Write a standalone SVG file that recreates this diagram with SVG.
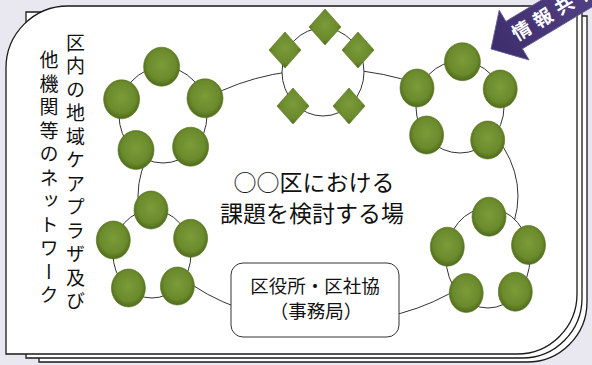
<svg xmlns="http://www.w3.org/2000/svg" width="592" height="365" viewBox="0 0 592 365">
<defs>
<radialGradient id="g" cx="50%" cy="45%" r="55%">
<stop offset="0" stop-color="#7c9b3a"/>
<stop offset="0.72" stop-color="#6a8a2c"/>
<stop offset="1" stop-color="#4e6a1a"/>
</radialGradient>
<linearGradient id="pg" x1="0" y1="0" x2="1" y2="0">
<stop offset="0" stop-color="#3d2d6c"/>
<stop offset="1" stop-color="#5a4a8e"/>
</linearGradient>
</defs>
<style>
.page{fill:#fff;stroke:#1a1a1a;stroke-width:1.3}
.ring{fill:#fff;stroke:#333;stroke-width:1}
.n{fill:url(#g);stroke:#56731f;stroke-width:0.6}
.t{font-family:"Noto Sans CJK JP","Noto Sans",sans-serif;fill:#111}
.v{writing-mode:vertical-rl;font-size:19px;letter-spacing:4.5px}
.link{fill:none;stroke:#333;stroke-width:1}
</style>
<rect width="592" height="365" fill="#e9e7f0"/>
<g id="pages">
<path class="page" d="M39,16 H587 V302 A60,60 0 0 1 527,362 H39 Z"/>
<path class="page" d="M26,12 H582 V298 A60,60 0 0 1 522,358 H26 Z"/>
<path class="page" d="M6,68 A62,62 0 0 1 68,6 H577 V294 A60,60 0 0 1 517,354 H6 Z"/>
</g>
<g id="connectors">
<ellipse class="link" cx="328" cy="196" rx="190" ry="127"/>
</g>
<g id="cluster-top-left">
<ellipse class="ring" cx="163" cy="115" rx="44" ry="48"/>
<ellipse class="n" cx="161.6" cy="66.7" rx="18" ry="19.5"/>
<ellipse class="n" cx="121.6" cy="99.3" rx="18" ry="19.5"/>
<ellipse class="n" cx="205" cy="98.3" rx="18" ry="19.5"/>
<ellipse class="n" cx="136" cy="150" rx="18" ry="19.5"/>
<ellipse class="n" cx="190.6" cy="146.7" rx="18" ry="19.5"/>
</g>
<g id="cluster-diamonds">
<ellipse class="ring" cx="323" cy="72" rx="41" ry="44"/>
<path class="n" d="M325,9 L341,27 L325,45 L309,27 Z"/>
<path class="n" d="M285,32 L301,50 L285,68 L269,50 Z"/>
<path class="n" d="M358,32 L374,50 L358,68 L342,50 Z"/>
<path class="n" d="M293,88 L309,106 L293,124 L277,106 Z"/>
<path class="n" d="M349,88 L365,106 L349,124 L333,106 Z"/>
</g>
<g id="cluster-top-right">
<ellipse class="ring" cx="460" cy="107" rx="44" ry="46"/>
<ellipse class="n" cx="462.4" cy="61.7" rx="18" ry="19"/>
<ellipse class="n" cx="417" cy="88" rx="17" ry="19"/>
<ellipse class="n" cx="500.2" cy="89" rx="17" ry="19"/>
<ellipse class="n" cx="426.6" cy="135" rx="17" ry="19"/>
<ellipse class="n" cx="487.7" cy="140" rx="17" ry="19"/>
</g>
<g id="cluster-bottom-left">
<ellipse class="ring" cx="152" cy="254" rx="39" ry="44"/>
<ellipse class="n" cx="151" cy="210" rx="17" ry="19"/>
<ellipse class="n" cx="113.3" cy="240" rx="17" ry="19"/>
<ellipse class="n" cx="190.6" cy="238.3" rx="17" ry="19"/>
<ellipse class="n" cx="128.4" cy="288" rx="17" ry="19"/>
<ellipse class="n" cx="177.4" cy="286" rx="17" ry="19"/>
</g>
<g id="cluster-bottom-right">
<ellipse class="ring" cx="488" cy="258" rx="42" ry="50"/>
<ellipse class="n" cx="489" cy="216.7" rx="17" ry="19.5"/>
<ellipse class="n" cx="447.3" cy="246.7" rx="17" ry="19.5"/>
<ellipse class="n" cx="528.5" cy="245" rx="17" ry="19.5"/>
<ellipse class="n" cx="466.2" cy="293" rx="17" ry="19.5"/>
<ellipse class="n" cx="515.3" cy="291.7" rx="17" ry="19.5"/>
</g>
<g id="office">
<rect x="231" y="263" width="168" height="74" rx="12" ry="12" fill="#fff" stroke="#333" stroke-width="1"/>
<text class="t" x="315" y="293" font-size="18.5" text-anchor="middle">区役所・区社協</text>
<text class="t" x="316" y="318" font-size="18.5" text-anchor="middle">（事務局）</text>
</g>
<g id="center-label">
<text class="t" x="314" y="191" font-size="23" text-anchor="middle">○○区における</text>
<text class="t" x="312" y="222" font-size="23" text-anchor="middle">課題を検討する場</text>
</g>
<g id="side-label">
<text class="t v" x="75.5" y="33">区内の地域ケアプラザ及び</text>
<text class="t v" x="49" y="50.5">他機関等のネットワーク</text>
</g>
<g id="info-arrow" transform="translate(491,49) rotate(-31)">
<polygon points="0,0 27,-29 27,-16 170,-16 170,16 27,16 27,29" fill="url(#pg)" stroke="#6a5a9a" stroke-width="0.8"/>
<text x="26" y="7" font-family="'Noto Sans CJK JP',sans-serif" font-size="19" font-weight="bold" fill="#fff" letter-spacing="6">情報共有</text>
</g>
</svg>
